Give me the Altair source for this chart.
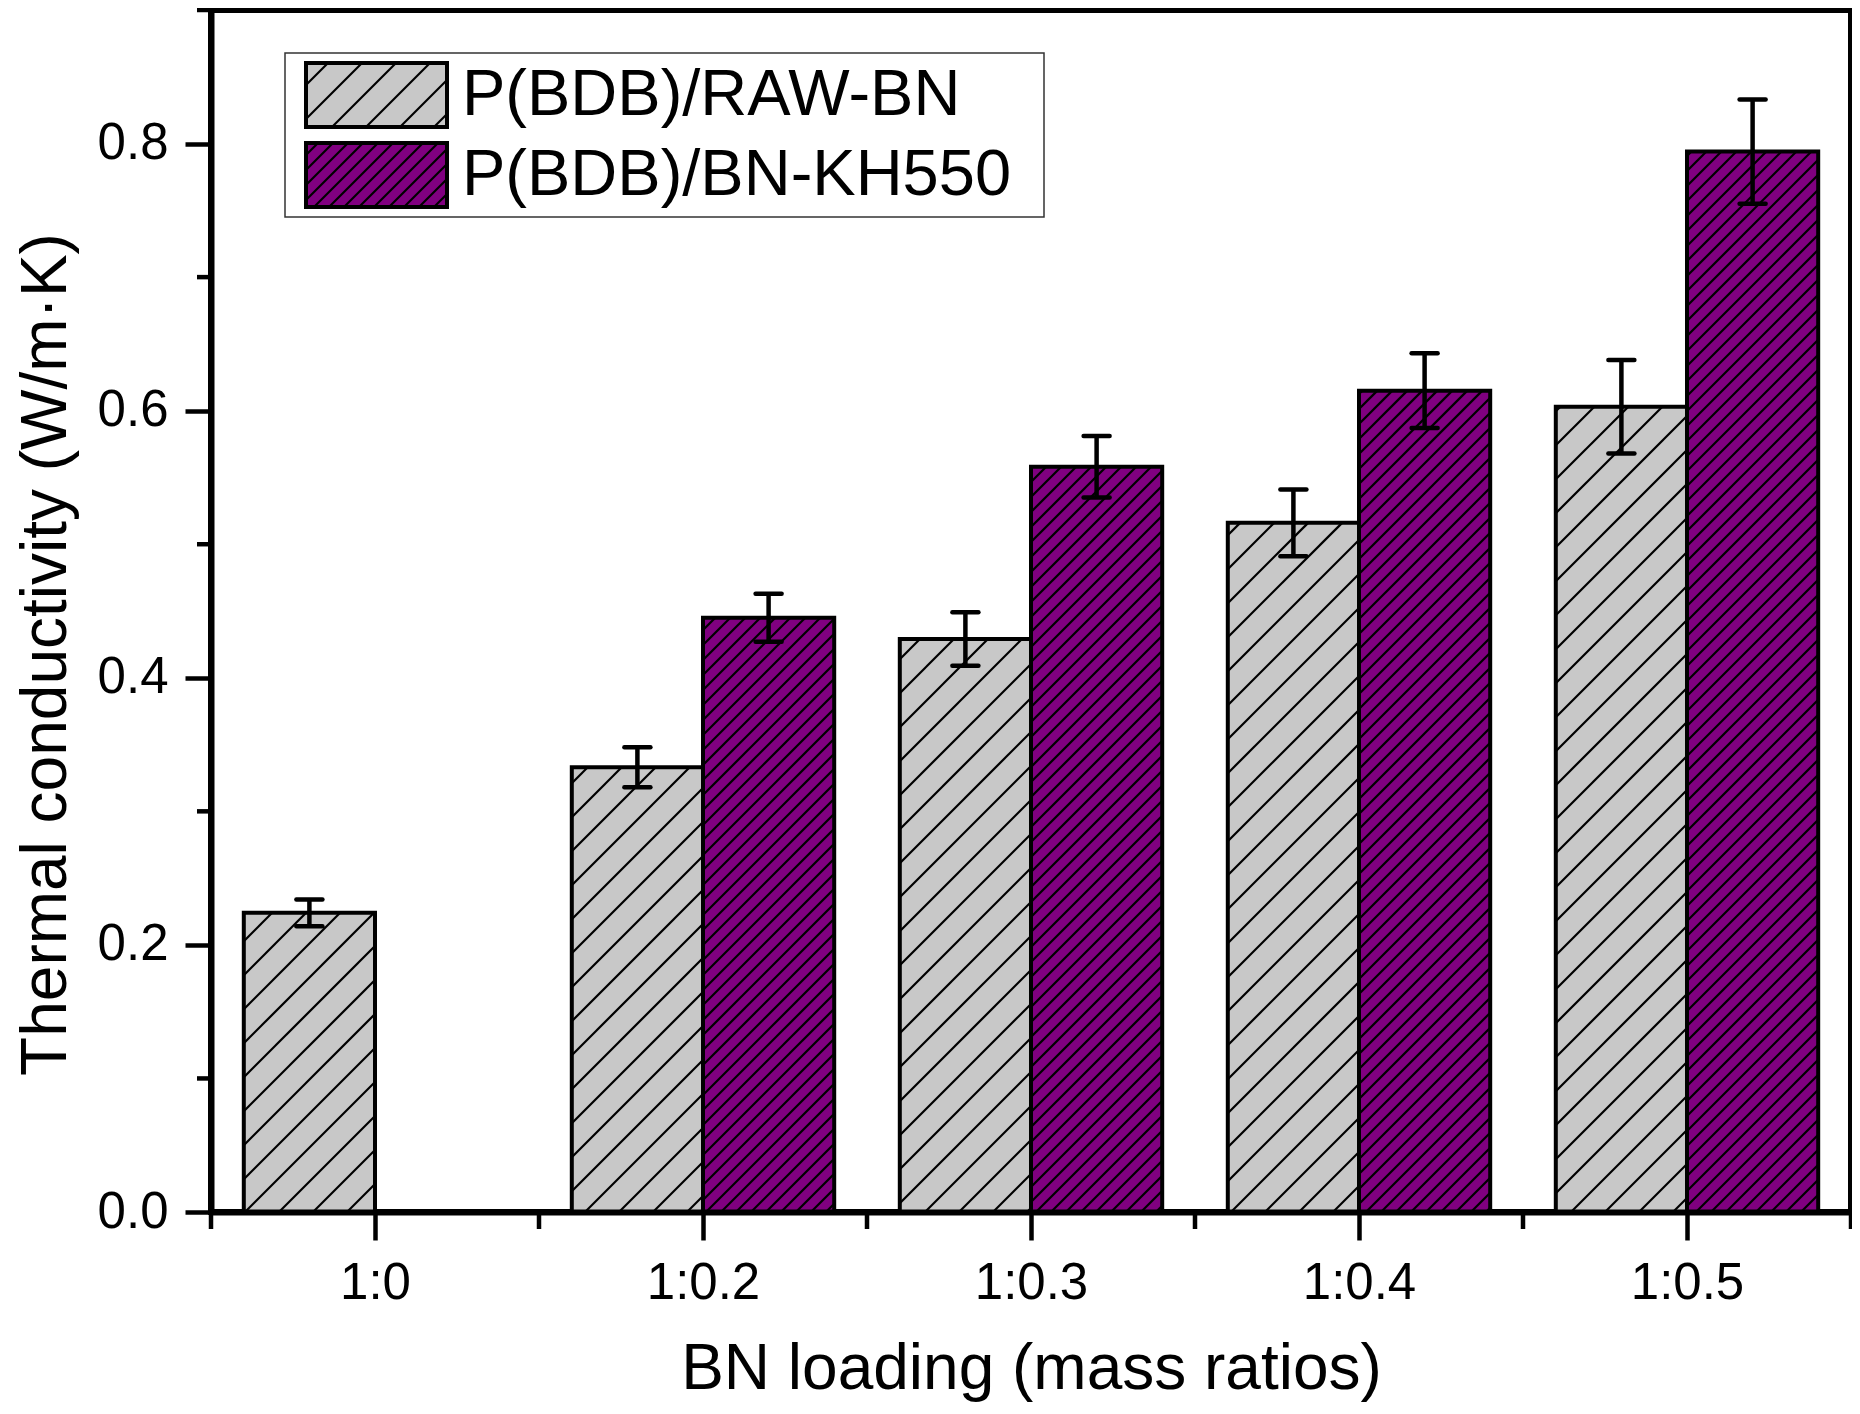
import json

import altair as alt
import pandas as pd

# values
categories = ["1:0", "1:0.2", "1:0.3", "1:0.4", "1:0.5"]
raw_bn = [0.224, 0.333, 0.429, 0.516, 0.603]
raw_bn_err = [0.010, 0.015, 0.020, 0.025, 0.035]
kh550 = [None, 0.445, 0.558, 0.615, 0.794]
kh550_err = [None, 0.018, 0.023, 0.028, 0.039]
series = ["P(BDB)/RAW-BN", "P(BDB)/BN-KH550"]

y_ticks = [0.0, 0.2, 0.4, 0.6, 0.8]
y_minor = [0.1, 0.3, 0.5, 0.7, 0.9]
x_minor = [0.5, 1.5, 2.5, 3.5, 4.5, 5.5]

# styles
colors = ["#c8c8c8", "#800080"]
hatch_gap = [34, 15]
FONT = "Liberation Sans"
W, H = 1640, 1202
Y_MAX = 0.9
SX = W / 5.0
SY = H / Y_MAX
BAR_W = 0.4

rows = []
for i, cat in enumerate(categories):
    for s, vals, errs in ((0, raw_bn, raw_bn_err), (1, kh550, kh550_err)):
        if vals[i] is None:
            continue
        x0 = i + 1 - BAR_W if s == 0 else i + 1
        rows.append({"category": cat, "series": series[s], "x0": x0,
                     "x1": x0 + BAR_W, "value": vals[i], "err": errs[i],
                     "gap": hatch_gap[s]})
bars = pd.DataFrame(rows)

x_scale = alt.Scale(domain=[0.5, 5.5], nice=False, zero=False)
y_scale = alt.Scale(domain=[0, Y_MAX], nice=False, zero=False)
label_expr = "{}[datum.value - 1]".format(json.dumps(categories))

x_axis = alt.Axis(values=[1, 2, 3, 4, 5], labelExpr=label_expr, tickSize=28,
                  labelPadding=18, title="BN loading (mass ratios)",
                  titleY=176, titleBaseline="alphabetic", zindex=1)
y_axis = alt.Axis(values=y_ticks, format=".1f", tickSize=26, labelPadding=17,
                  title="Thermal conductivity (W/m\u00b7K)", titleX=-146,
                  titleY=644, titleBaseline="alphabetic", zindex=1)

base = alt.Chart(bars)

fill = base.mark_rect().encode(
    x=alt.X("x0:Q", scale=x_scale, axis=x_axis),
    x2="x1",
    y=alt.Y("value:Q", scale=y_scale, axis=y_axis),
    y2=alt.datum(0),
    color=alt.Color("series:N", scale=alt.Scale(domain=series, range=colors),
                    legend=None))

# hatch lines at 45 degrees, worked out in pixel space and mapped back
hatch = base.transform_calculate(
    X0="(datum.x0 - 0.5) * {}".format(SX),
    X1="(datum.x1 - 0.5) * {}".format(SX),
    Y1="datum.value * {}".format(SY),
).transform_calculate(
    k="sequence(ceil(-datum.X1 / datum.gap), floor((datum.Y1 - datum.X0) / datum.gap) + 1)"
).transform_flatten(["k"]).transform_calculate(
    c="datum.k * datum.gap"
).transform_calculate(
    xs="max(datum.X0, -datum.c)",
    xe="min(datum.X1, datum.Y1 - datum.c)",
).transform_filter("datum.xe - datum.xs > 1").transform_calculate(
    hx="datum.xs / {} + 0.5".format(SX),
    hx2="datum.xe / {} + 0.5".format(SX),
    hy="(datum.xs + datum.c) / {}".format(SY),
    hy2="(datum.xe + datum.c) / {}".format(SY),
).mark_rule(color="black", strokeWidth=2.2).encode(
    x=alt.X("hx:Q", scale=x_scale), x2="hx2",
    y=alt.Y("hy:Q", scale=y_scale), y2="hy2")

outline = base.mark_rect(fill=None, stroke="black", strokeWidth=4).encode(
    x=alt.X("x0:Q", scale=x_scale), x2="x1",
    y=alt.Y("value:Q", scale=y_scale), y2=alt.datum(0))

err = base.transform_calculate(
    lo="datum.value - datum.err",
    hi="datum.value + datum.err",
    xc="datum.x0 + {}".format(BAR_W / 2),
    ca="datum.x0 + {} - {}".format(BAR_W / 2, 13 / SX),
    cb="datum.x0 + {} + {}".format(BAR_W / 2, 13 / SX),
)
err_line = err.mark_rule(color="black", strokeWidth=4.5).encode(
    x=alt.X("xc:Q", scale=x_scale), y=alt.Y("lo:Q", scale=y_scale), y2="hi")
cap_lo = err.mark_rule(color="black", strokeWidth=4.5, strokeCap="round").encode(
    x=alt.X("ca:Q", scale=x_scale), x2="cb", y=alt.Y("lo:Q", scale=y_scale))
cap_hi = err.mark_rule(color="black", strokeWidth=4.5, strokeCap="round").encode(
    x=alt.X("ca:Q", scale=x_scale), x2="cb", y=alt.Y("hi:Q", scale=y_scale))

xm = alt.Chart(pd.DataFrame({"v": x_minor})).mark_rule(
    color="black", strokeWidth=4.5).encode(
    x=alt.X("v:Q", scale=x_scale), y=alt.value(H), y2=alt.value(H + 17))
ym = alt.Chart(pd.DataFrame({"v": y_minor})).mark_rule(
    color="black", strokeWidth=4.5).encode(
    y=alt.Y("v:Q", scale=y_scale), x=alt.value(0), x2=alt.value(-14))

# legend drawn by hand so the swatches can carry the hatching
leg = pd.DataFrame({"series": series, "color": colors, "gap": hatch_gap,
                    "row": [0, 1]})
leg_base = alt.Chart(leg).transform_calculate(
    L="95", R="236", T="53 + datum.row * 80", B="117 + datum.row * 80",
    M="85 + datum.row * 80")

leg_box = alt.Chart(alt.Data(values=[{"a": 1}])).mark_rect(
    fill="white", stroke="#333333", strokeWidth=1.5).encode(
    x=alt.value(74), x2=alt.value(833), y=alt.value(43), y2=alt.value(207))
leg_fill = leg_base.mark_rect().encode(
    x=alt.X("L:Q", scale=None), x2="R:Q",
    y=alt.Y("T:Q", scale=None), y2="B:Q",
    color=alt.Color("color:N", scale=None))
leg_hatch = leg_base.transform_calculate(
    k="sequence(ceil((datum.L + datum.T) / datum.gap), floor((datum.R + datum.B) / datum.gap) + 1)"
).transform_flatten(["k"]).transform_calculate(
    c="datum.k * datum.gap"
).transform_calculate(
    p0="max(datum.L, datum.c - datum.B)",
    p1="min(datum.R, datum.c - datum.T)",
).transform_filter("datum.p1 - datum.p0 > 1").transform_calculate(
    q0="datum.c - datum.p0", q1="datum.c - datum.p1"
).mark_rule(color="black", strokeWidth=2.2).encode(
    x=alt.X("p0:Q", scale=None), x2="p1:Q",
    y=alt.Y("q0:Q", scale=None), y2="q1:Q")
leg_outline = leg_base.mark_rect(fill=None, stroke="black",
                                 strokeWidth=4).encode(
    x=alt.X("L:Q", scale=None), x2="R:Q",
    y=alt.Y("T:Q", scale=None), y2="B:Q")
leg_text = leg_base.mark_text(align="left", baseline="middle", fontSize=65,
                              font=FONT, color="black").encode(
    x=alt.value(251), y=alt.Y("M:Q", scale=None), text="series:N")

chart = alt.layer(
    fill, hatch, outline, err_line, cap_lo, cap_hi, xm, ym,
    leg_box, leg_fill, leg_hatch, leg_outline, leg_text
).properties(
    width=W, height=H, autosize="none",
    padding={"left": 203, "top": 2, "right": 1, "bottom": 192},
    background="white"
).configure_view(
    stroke="black", strokeWidth=6
).configure_axis(
    grid=False, domainColor="black", domainWidth=6, tickColor="black",
    tickWidth=4.5, labelFont=FONT, labelFontSize=51, labelColor="black",
    titleFont=FONT, titleFontSize=64, titleFontWeight="normal",
    titleColor="black"
)

chart.save("out.html", embed_options={"renderer": "svg", "actions": False})
